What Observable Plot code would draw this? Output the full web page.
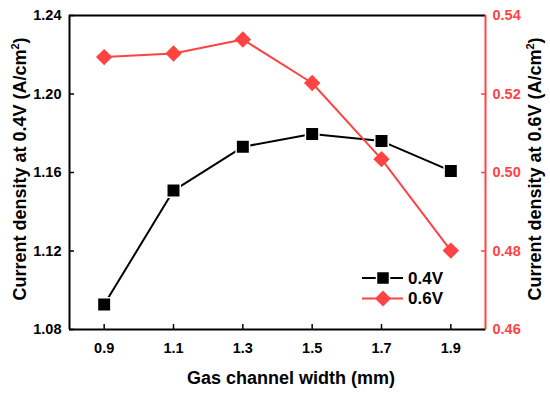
<!DOCTYPE html>
<html>
<head>
<meta charset="utf-8">
<script src="https://cdn.jsdelivr.net/npm/d3@7"></script>
<script src="https://cdn.jsdelivr.net/npm/@observablehq/plot@0.6"></script>
<style>
  html, body { margin: 0; padding: 0; background: #fff; }
  #chart { width: 550px; height: 394px; }
</style>
</head>
<body>
<div id="chart"></div>
<script>
const widths = [0.9, 1.1, 1.3, 1.5, 1.7, 1.9];
const current04 = [1.0927, 1.1508, 1.1731, 1.1796, 1.1760, 1.1608];
const current06 = [0.5294, 0.5303, 0.5339, 0.5228, 0.5034, 0.4801];
const xTicks = [0.9, 1.1, 1.3, 1.5, 1.7, 1.9];
const leftTicks = [1.08, 1.12, 1.16, 1.20, 1.24];
const rightTicks = [0.46, 0.48, 0.50, 0.52, 0.54];

const RED = "#ff4343";
const FONT = "Liberation Sans, Arial, sans-serif";

// map right axis domain onto left axis domain
const L0 = 1.08, L1 = 1.24, R0 = 0.46, R1 = 0.54;
const toLeft = v => L0 + (v - R0) * (L1 - L0) / (R1 - R0);

const d04 = widths.map((w, i) => ({w, v: current04[i]}));
const d06 = widths.map((w, i) => ({w, v: toLeft(current06[i])}));
const rightPos = rightTicks.map(toLeft);

const plot = Plot.plot({
  width: 550,
  height: 394,
  marginLeft: 69,
  marginRight: 65,
  marginTop: 15,
  marginBottom: 65,
  style: {fontFamily: FONT, fontWeight: "bold", fontSize: "14px", background: "#fff"},
  x: {domain: [0.8, 2.0], label: null},
  y: {domain: [L0, L1], label: null},
  marks: [
    Plot.axisX(xTicks, {label: null, tickSize: -5, tickPadding: 18, tickFormat: d3.format(".1f"), strokeWidth: 1.5, fontSize: 14.5, fontWeight: "bold"}),
    Plot.axisY(leftTicks, {label: null, anchor: "left", tickSize: -5, tickPadding: 13, tickFormat: d3.format(".2f"), strokeWidth: 1.5, fontSize: 14.5, fontWeight: "bold"}),
    Plot.axisY(rightPos, {label: null, anchor: "right", tickSize: -5, tickPadding: 12, tickFormat: (d, i) => d3.format(".2f")(rightTicks[i]), stroke: RED, fill: RED, strokeWidth: 1.5, fontSize: 14.5, fontWeight: "bold"}),
    Plot.ruleY([L1], {stroke: "#000", strokeWidth: 2}),
    Plot.ruleY([L0], {stroke: "#000", strokeWidth: 2}),
    Plot.ruleX([0.8], {stroke: "#000", strokeWidth: 2}),
    Plot.ruleX([2.0], {stroke: RED, strokeWidth: 2}),
    Plot.line(d04, {x: "w", y: "v", stroke: "#000", strokeWidth: 2}),
    Plot.dot(d04, {x: "w", y: "v", symbol: "square", r: 7.6, fill: "#000", stroke: "#fff", strokeWidth: 1.5}),
    Plot.line(d06, {x: "w", y: "v", stroke: RED, strokeWidth: 2}),
    Plot.dot(d06, {x: "w", y: "v", symbol: "diamond2", r: 7.4, fill: RED, stroke: "none"})
  ]
});

const svg = d3.select(plot);
// axis titles
svg.append("text")
  .attr("x", 291).attr("y", 384)
  .attr("text-anchor", "middle")
  .attr("font-family", FONT).attr("font-weight", "bold").attr("font-size", 18)
  .attr("fill", "#000")
  .text("Gas channel width (mm)");

function vtitle(x, label) {
  const t = svg.append("text")
    .attr("transform", `translate(${x},169) rotate(-90)`)
    .attr("text-anchor", "middle")
    .attr("font-family", FONT).attr("font-weight", "bold").attr("font-size", 18)
    .attr("fill", "#000");
  t.append("tspan").text(label);
  t.append("tspan").attr("dy", -7).attr("font-size", 11).text("2");
  t.append("tspan").attr("dy", 7).text(")");
}
vtitle(26, "Current density at 0.4V (A/cm");
vtitle(541, "Current density at 0.6V (A/cm");

// legend
const legend = [
  {label: "0.4V", color: "#000", shape: "square"},
  {label: "0.6V", color: RED, shape: "diamond"}
];
legend.forEach((item, i) => {
  const y = 278 + i * 20.5;
  const g = svg.append("g");
  g.append("line").attr("x1", 362).attr("x2", 403).attr("y1", y).attr("y2", y)
    .attr("stroke", item.color).attr("stroke-width", 2);
  if (item.shape === "square") {
    g.append("rect").attr("x", 383 - 6.5).attr("y", y - 6.5).attr("width", 13).attr("height", 13)
      .attr("fill", item.color).attr("stroke", "#fff").attr("stroke-width", 1.5);
  } else {
    g.append("path").attr("d", `M383,${y-8}L391,${y}L383,${y+8}L375,${y}Z`).attr("fill", item.color);
  }
  g.append("text").attr("x", 408).attr("y", y).attr("dy", "0.35em")
    .attr("text-anchor", "start")
    .attr("font-family", FONT).attr("font-weight", "bold").attr("font-size", 17)
    .attr("fill", "#000").text(item.label);
});

document.getElementById("chart").appendChild(plot);
</script>
</body>
</html>
